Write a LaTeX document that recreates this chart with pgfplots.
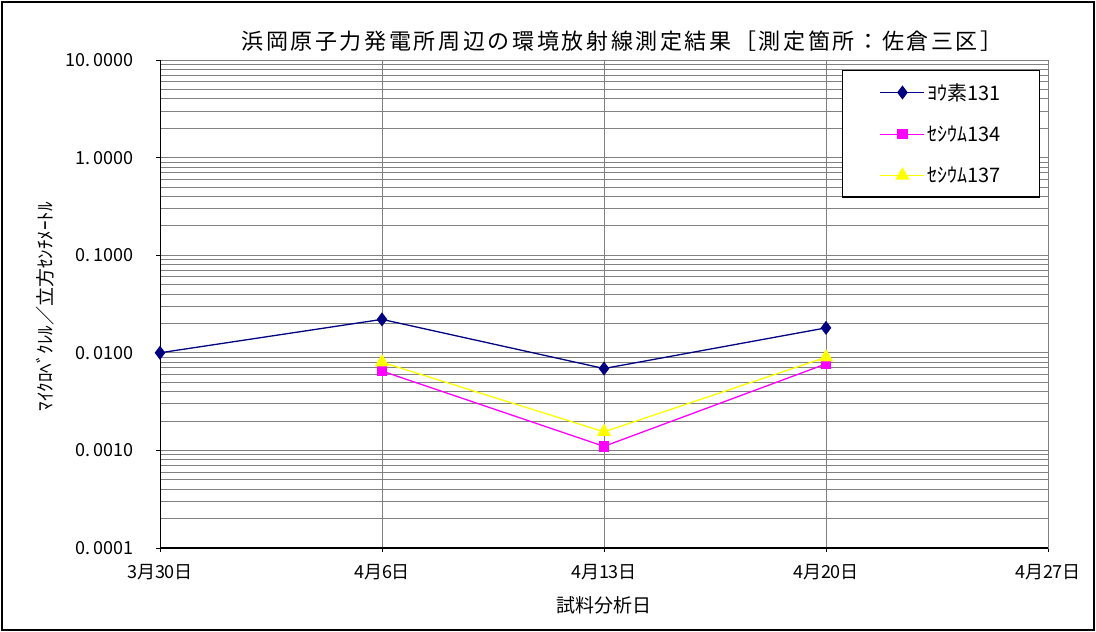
\documentclass[border=0pt]{standalone}
\usepackage{fontspec}
\setmainfont{Noto Sans CJK JP}
\newfontfamily\titlefont{Noto Sans CJK JP}[LetterSpace=12]
\usepackage{pgfplots}
\pgfplotsset{compat=1.18}
\definecolor{navy}{RGB}{0,0,128}
\definecolor{magenta}{RGB}{255,0,255}
\definecolor{yel}{RGB}{255,255,0}
\definecolor{gridgray}{RGB}{128,128,128}

\begin{document}
\begin{tikzpicture}
\useasboundingbox (0pt,0pt) rectangle (1096pt,632pt);
\draw[line width=1.5pt] (2pt,2pt) rectangle (1094pt,630pt);
\begin{axis}[
  at={(160pt,84pt)}, anchor=south west,
  scale only axis, width=888pt, height=488pt,
  ymode=log, xmin=0, xmax=28, ymin=0.0001, ymax=10,
  xtick={0,7,14,21,28},
  xticklabels={3月30日,4月6日,4月13日,4月20日,4月27日},
  ytick={0.0001,0.001,0.01,0.1,1,10},
  yticklabels={0.\,0001,0.\,0010,0.\,0100,0.\,1000,1.\,0000,10.\,0000},
  /pgf/number format/assume math mode=true,
  tick label style={font=\fontsize{18}{21}\selectfont},
  xticklabel style={yshift=-9pt},
  yticklabel style={xshift=-19pt},
  grid=both,
  major grid style={gridgray, line width=0.9pt},
  minor grid style={gridgray, line width=0.9pt},
  axis line style={gridgray, line width=0.9pt},
  tick align=outside, major tick length=4pt, minor tick length=0pt,
  tick style={black, line width=0.9pt},
  xtick pos=bottom, ytick pos=left,
  legend style={at={(0.991,0.98)}, anchor=north east, draw=black, line width=1.2pt,
    font=\fontsize{20}{23}\selectfont, inner xsep=37pt, inner ysep=11pt,
    row sep=20pt, cells={anchor=west}},
  legend image code/.code={\draw[mark repeat=2, mark phase=2] plot coordinates {(0pt,0pt) (22pt,0pt) (44pt,0pt)};},
]
\addplot[navy, line width=1.3pt, mark=diamond*, mark size=6pt] coordinates {
  (0,0.0100) (7,0.0220) (14,0.0069) (21,0.0180)
};
\addlegendentry{ﾖｳ素131}
\addplot[magenta, line width=1.3pt, mark=square*, mark size=4.5pt] coordinates {
  (7,0.0065) (14,0.0011) (21,0.0077)
};
\addlegendentry{ｾｼｳﾑ134}
\addplot[yel, line width=1.3pt, mark=triangle*, mark size=7pt] coordinates {
  (7,0.0080) (14,0.00155) (21,0.0090)
};
\addlegendentry{ｾｼｳﾑ137}
\draw[black, line width=1.3pt] (rel axis cs:0,1) -- (rel axis cs:0,0) -- (rel axis cs:1,0);
\end{axis}
\node[font=\titlefont\fontsize{22}{26}\selectfont] at (622pt,591pt) {浜岡原子力発電所周辺の環境放射線測定結果［測定箇所：佐倉三区］};
\node[font=\fontsize{19}{22}\selectfont, rotate=90] at (45pt,325pt) {ﾏｲｸﾛﾍﾞｸﾚﾙ／立方ｾﾝﾁﾒｰﾄﾙ};
\node[font=\fontsize{19}{22}\selectfont] at (604pt,27pt) {試料分析日};
\end{tikzpicture}
\end{document}
